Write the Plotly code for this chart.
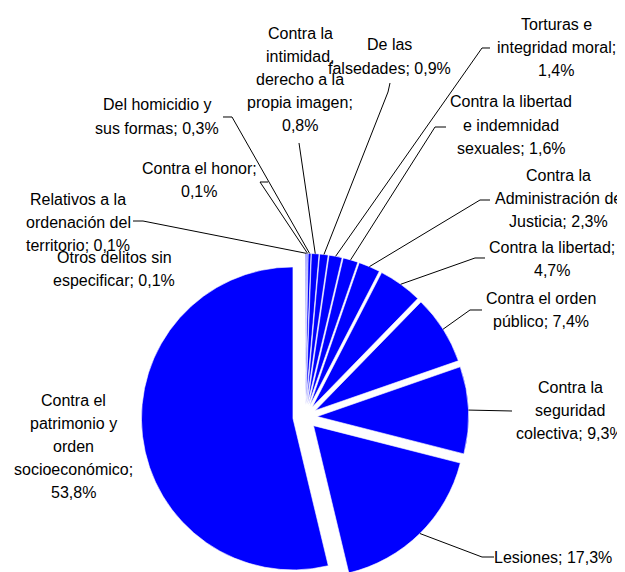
import math
import plotly.graph_objects as go

# ---------------- data ----------------
categories = [
    "Otros delitos sin especificar",
    "Relativos a la ordenación del territorio",
    "Contra el honor",
    "Del homicidio y sus formas",
    "Contra la intimidad, derecho a la propia imagen",
    "De las falsedades",
    "Torturas e integridad moral",
    "Contra la libertad e indemnidad sexuales",
    "Contra la Administración de Justicia",
    "Contra la libertad",
    "Contra el orden público",
    "Contra la seguridad colectiva",
    "Lesiones",
    "Contra el patrimonio y orden socioeconómico",
]
values = [0.1, 0.1, 0.1, 0.3, 0.8, 0.9, 1.4, 1.6, 2.3, 4.7, 7.4, 9.3, 17.3, 53.8]

# label text, wrapped as in the reference ("{v}" = formatted value)
label_lines = [
    ["Otros delitos sin", "especificar; {v}"],
    ["Relativos a la", "ordenación del", "territorio; {v}"],
    ["Contra el honor;", "{v}"],
    ["Del homicidio y", "sus formas; {v}"],
    ["Contra la", "intimidad,", "derecho a la", "propia imagen;", "{v}"],
    ["De las", "falsedades; {v}"],
    ["Torturas e", "integridad moral;", "{v}"],
    ["Contra la libertad", "e indemnidad", "sexuales; {v}"],
    ["Contra la", "Administración de", "Justicia; {v}"],
    ["Contra la libertad;", "{v}"],
    ["Contra el orden", "público; {v}"],
    ["Contra la", "seguridad", "colectiva; {v}"],
    ["Lesiones; {v}"],
    ["Contra el", "patrimonio y", "orden", "socioeconómico;", "{v}"],
]

# ---------------- layout (screen pixels) ----------------
W, HF = 625, 584
OFF = 8  # page body margin
CX, CY, R, PULL = 305.0, 417.0, 151.5, 0.08
LS = 23.2  # line spacing of labels
FONT = dict(family="Liberation Sans, Arial, sans-serif", size=16, color="#000000")

# label centre x, first line y
label_pos = [
    (114, 257), (78, 199), (199, 168), (157, 105), (300, 33), (389, 45),
    (556, 24), (511, 102), (558, 175), (552, 247), (541, 298), (570, 387),
    (553, 557), (73, 400),
]
# leader line points from the label side (tip on the slice added from data)
leader_pts = [
    None,
    [(133, 221), (143, 221)],
    [(268, 182), (260, 182)],
    [(223, 117), (232, 117)],
    [(299, 143)],
    [(390, 83), (388, 92)],
    [(490, 48), (482, 48)],
    [(446, 127), (435, 127)],
    [(490, 200), (480, 200)],
    [(485, 258), (475, 258)],
    [(482, 310), (470, 310)],
    [(512, 411)],
    [(494, 557), (482, 557)],
    None,
]


def fmt(v):
    return f"{v:.1f}%".replace(".", ",")


def px(x):
    return (x - OFF) / W


def py(y):
    return 1 - (y - OFF) / HF


total = sum(values)
mids = []
acc = 0.0
for v in values:
    mids.append(360.0 * (acc + v / 2) / total)
    acc += v


def tip(theta):
    t = math.radians(theta)
    ux, uy = math.sin(t), -math.cos(t)
    return (CX + (1 + PULL) * R * ux, CY + (1 + PULL) * R * uy)


n = len(values)
half = R * (1 + PULL)
fig = go.Figure(
    go.Pie(
        labels=categories,
        values=values,
        sort=False,
        direction="clockwise",
        rotation=0,
        pull=[PULL] * n,
        marker=dict(colors=["#0000FF"] * n, line=dict(color="#FFFFFF", width=0.6)),
        textinfo="none",
        hoverinfo="label+percent",
        showlegend=False,
        domain=dict(
            x=[(CX - OFF - half) / W, (CX - OFF + half) / W],
            y=[0, 2 * (HF - (CY - OFF)) / HF],
        ),
    )
)

shapes = []
annotations = []
for i in range(n):
    pts = leader_pts[i]
    if pts:
        allp = list(pts) + [tip(mids[i])]
        path = "M " + " L ".join(f"{px(x):.5f},{py(y):.5f}" for x, y in allp)
        shapes.append(
            dict(type="path", xref="paper", yref="paper", path=path,
                 line=dict(color="#000000", width=1))
        )
    cx, y0 = label_pos[i]
    for k, line in enumerate(label_lines[i]):
        annotations.append(
            dict(
                x=px(cx), y=py(y0 + k * LS), xref="paper", yref="paper",
                text=line.replace("{v}", fmt(values[i])),
                showarrow=False, xanchor="center", yanchor="middle",
                font=FONT,
            )
        )

fig.update_layout(
    width=W,
    height=HF,
    margin=dict(l=0, r=0, t=0, b=0),
    paper_bgcolor="#FFFFFF",
    plot_bgcolor="#FFFFFF",
    showlegend=False,
    shapes=shapes,
    annotations=annotations,
)

fig.write_html("out.html")
